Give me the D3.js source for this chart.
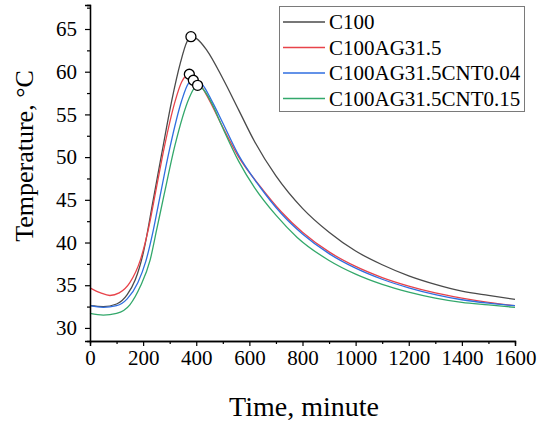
<!DOCTYPE html>
<html>
<head>
<meta charset="utf-8">
<script src="https://cdn.jsdelivr.net/npm/d3@7"></script>
<style>
  body { margin: 0; background: #fff; }
  svg { display: block; font-family: "Liberation Serif", "Times New Roman", serif; }
  .axis text { font-family: "Liberation Serif", "Times New Roman", serif; font-size: 21px; fill: #000; }
</style>
</head>
<body>
<svg id="chart"></svg>
<script>
let seriesNames = ["C100", "C100AG31.5", "C100AG31.5CNT0.04", "C100AG31.5CNT0.15"]
let seriesColors = ["#4a4a4a", "#e8434a", "#2f6ee0", "#33a86b"]

let timeC100 = [0, 50, 100, 140, 170, 200, 238, 270, 307, 340, 365, 380, 400, 440, 500, 560, 620, 700, 800, 900, 1000, 1100, 1200, 1300, 1400, 1500, 1600]
let tempC100 = [32.6, 32.5, 32.8, 33.9, 35.6, 38.7, 45.0, 50.4, 56.5, 61.0, 63.5, 64.1, 63.9, 62.5, 59.2, 55.5, 51.8, 47.8, 44.0, 41.2, 39.0, 37.4, 36.1, 35.1, 34.3, 33.8, 33.35]

let timeAG = [0, 40, 75, 110, 150, 190, 220, 250, 280, 320, 345, 374, 400, 440, 500, 560, 640, 720, 800, 900, 1000, 1100, 1200, 1300, 1400, 1500, 1600]
let tempAG = [34.7, 34.1, 33.8, 34.1, 35.3, 38.0, 41.6, 46.4, 51.2, 56.5, 58.8, 59.7, 59.2, 57.2, 53.5, 50.0, 46.6, 43.6, 41.2, 38.9, 37.2, 35.9, 34.9, 34.1, 33.5, 33.0, 32.6]

let timeCNT004 = [0, 50, 100, 140, 180, 210, 238, 261, 300, 345, 370, 389, 420, 460, 500, 560, 640, 720, 800, 900, 1000, 1100, 1200, 1300, 1400, 1500, 1600]
let tempCNT004 = [32.6, 32.4, 32.6, 33.4, 35.3, 37.8, 41.4, 45.0, 51.0, 56.6, 58.6, 59.0, 58.6, 56.5, 54.0, 50.2, 46.5, 43.4, 41.0, 38.7, 37.0, 35.7, 34.7, 33.9, 33.3, 32.9, 32.6]

let timeCNT015 = [0, 50, 100, 150, 190, 226, 251, 279, 320, 373, 395, 405, 430, 460, 500, 560, 620, 700, 780, 900, 1000, 1100, 1200, 1300, 1400, 1500, 1600]
let tempCNT015 = [31.7, 31.5, 31.7, 32.7, 34.9, 37.9, 41.5, 45.6, 51.4, 56.9, 58.2, 58.4, 57.8, 56.2, 53.4, 49.5, 46.4, 43.2, 40.6, 37.9, 36.3, 35.1, 34.2, 33.5, 33.0, 32.7, 32.4]

let peakTime = [380, 374, 389, 405]
let peakTemp = [64.1, 59.7, 59.0, 58.4]

let xTicks = [0, 200, 400, 600, 800, 1000, 1200, 1400, 1600]
let yTicks = [30, 35, 40, 45, 50, 55, 60, 65]

let width = 539
let height = 426

let svg = d3.select('#chart')
  .attr('width', width)
  .attr('height', height)

let xScale = d3.scaleLinear()
  .domain([0, 1600])
  .range([90, 515])

let yScale = d3.scaleLinear()
  .domain([28.47, 67.81])
  .range([341, 5])

let allTimes = [timeC100, timeAG, timeCNT004, timeCNT015]
let allTemps = [tempC100, tempAG, tempCNT004, tempCNT015]

let line = d3.line()
  .x(d => xScale(d[0]))
  .y(d => yScale(d[1]))
  .curve(d3.curveMonotoneX)

// curves
allTimes.forEach((times, i) => {
  let pts = times.map((t, j) => [t, allTemps[i][j]])
  svg.append('path')
    .datum(pts)
    .attr('d', line)
    .attr('fill', 'none')
    .attr('stroke', seriesColors[i])
    .attr('stroke-width', 1.3)
})

// peak markers
svg.selectAll('circle.peak')
  .data(peakTime.map((t, i) => [t, peakTemp[i]]))
  .enter()
  .append('circle')
  .attr('class', 'peak')
  .attr('cx', d => xScale(d[0]))
  .attr('cy', d => yScale(d[1]))
  .attr('r', 5)
  .attr('fill', '#fff')
  .attr('stroke', '#000')
  .attr('stroke-width', 1.3)

// axes
let xAxis = d3.axisBottom(xScale).tickValues(xTicks).tickSize(5).tickPadding(4).tickFormat(d3.format('d'))
let xMinor = d3.axisBottom(xScale).tickValues(d3.range(100, 1600, 200)).tickSize(3).tickFormat('')
let yAxis = d3.axisLeft(yScale).tickValues(yTicks).tickSize(5).tickPadding(8)
let yMinor = d3.axisLeft(yScale).tickValues(yTicks.map(v => v + 2.5)).tickSize(3).tickFormat('')

let axisGroups = [
  [xAxis, 'translate(0,341)'],
  [xMinor, 'translate(0,341)'],
  [yAxis, 'translate(90,0)'],
  [yMinor, 'translate(90,0)']
]
axisGroups.forEach(([ax, tr]) => {
  svg.append('g')
    .attr('class', 'axis')
    .attr('transform', tr)
    .call(ax)
    .attr('font-family', '"Liberation Serif", "Times New Roman", serif')
    .attr('font-size', 21)
})

svg.selectAll('.domain').attr('stroke', '#000').attr('stroke-width', 1.3)
svg.selectAll('.tick line').attr('stroke', '#000').attr('stroke-width', 1.2)

// axis titles
svg.append('text')
  .attr('x', 304)
  .attr('y', 416)
  .attr('text-anchor', 'middle')
  .style('font-size', '28px')
  .text('Time, minute')

svg.append('text')
  .attr('transform', 'translate(33,156) rotate(-90)')
  .attr('text-anchor', 'middle')
  .style('font-size', '26px')
  .text('Temperature, °C')

// legend
let legend = svg.append('g')
legend.append('rect')
  .attr('x', 279.5)
  .attr('y', 6.5)
  .attr('width', 245)
  .attr('height', 105)
  .attr('fill', '#fff')
  .attr('stroke', '#7a7a7a')
  .attr('stroke-width', 1)

let legendY = d3.scalePoint().domain(seriesNames).range([22, 98.5])

seriesNames.forEach((name, i) => {
  let y = legendY(name)
  legend.append('line')
    .attr('x1', 283).attr('x2', 325)
    .attr('y1', y).attr('y2', y)
    .attr('stroke', seriesColors[i])
    .attr('stroke-width', 1.3)
  legend.append('text')
    .attr('x', 329)
    .attr('y', y + 7)
    .style('font-size', '21px')
    .text(name)
})
</script>
</body>
</html>
